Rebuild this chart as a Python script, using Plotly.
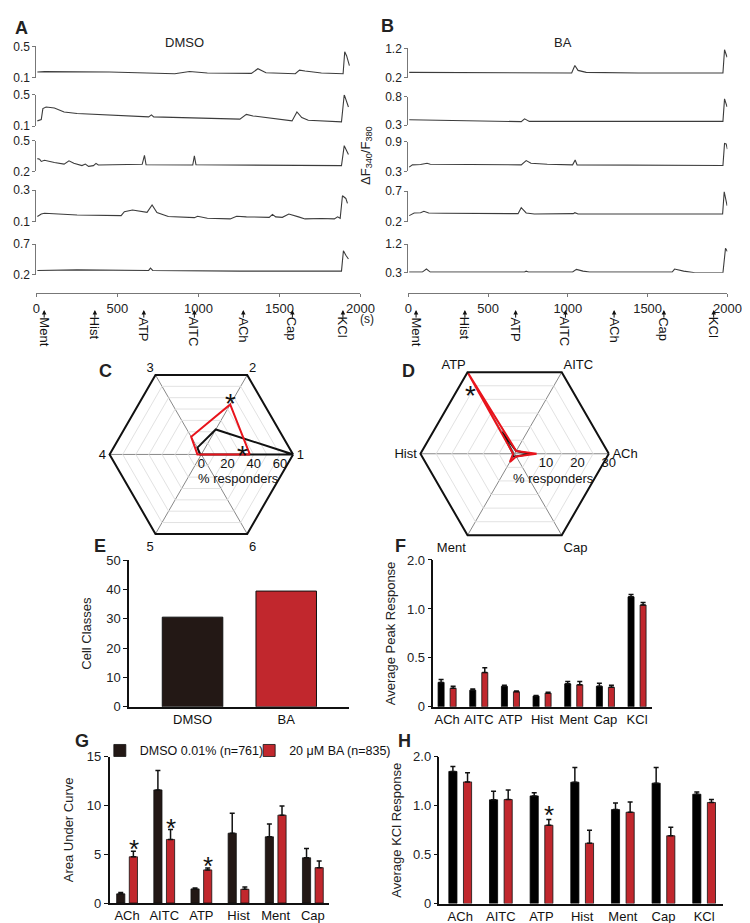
import plotly.graph_objects as go

# ---------------- DATA ----------------
# Panel A (DMSO) example traces: time (s) and ratio values
a1_t = [6, 50, 452, 854, 945, 1055, 1327, 1367, 1417, 1598, 1624, 1658, 1759, 1883, 1893, 1903, 1915, 1932]
a1_v = [0.175, 0.18, 0.175, 0.154, 0.183, 0.163, 0.158, 0.217, 0.166, 0.154, 0.2, 0.188, 0.163, 0.15, 0.154, 0.433, 0.38, 0.258]
a2_t = [6, 30, 40, 60, 111, 171, 251, 452, 693, 710, 724, 1256, 1296, 1337, 1457, 1578, 1608, 1638, 1678, 1883, 1900, 1926]
a2_v = [0.167, 0.184, 0.323, 0.344, 0.33, 0.28, 0.26, 0.24, 0.218, 0.243, 0.218, 0.19, 0.25, 0.23, 0.195, 0.167, 0.28, 0.21, 0.175, 0.155, 0.5, 0.344]
a3_t = [6, 20, 30, 50, 111, 171, 201, 231, 281, 302, 322, 352, 368, 382, 653, 667, 677, 965, 975, 985, 1883, 1900, 1926]
a3_v = [0.326, 0.32, 0.298, 0.31, 0.288, 0.272, 0.304, 0.28, 0.257, 0.272, 0.25, 0.257, 0.279, 0.263, 0.27, 0.358, 0.265, 0.263, 0.352, 0.265, 0.257, 0.453, 0.367]
a4_t = [6, 30, 50, 251, 523, 543, 593, 683, 714, 744, 814, 975, 995, 1055, 1196, 1236, 1296, 1437, 1457, 1477, 1518, 1558, 1618, 1658, 1759, 1839, 1859, 1875, 1889, 1910, 1920]
a4_v = [0.132, 0.148, 0.153, 0.142, 0.138, 0.163, 0.174, 0.159, 0.205, 0.157, 0.132, 0.125, 0.134, 0.121, 0.117, 0.134, 0.13, 0.127, 0.146, 0.13, 0.127, 0.148, 0.13, 0.117, 0.12, 0.117, 0.13, 0.121, 0.264, 0.247, 0.216]
a5_t = [6, 251, 693, 704, 718, 1256, 1883, 1895, 1910, 1926]
a5_v = [0.27, 0.28, 0.27, 0.307, 0.27, 0.259, 0.259, 0.592, 0.52, 0.458]
a_ranges = [(0.1, 0.5), (0.1, 0.5), (0.2, 0.5), (0.1, 0.3), (0.2, 0.7)]

# Panel B (BA) example traces
b1_t = [6, 423, 729, 739, 749, 1024, 1044, 1064, 1115, 1441, 1972, 1982, 1998]
b1_v = [0.389, 0.38, 0.367, 0.39, 0.367, 0.367, 0.622, 0.456, 0.39, 0.367, 0.367, 1.156, 0.9]
b2_t = [6, 220, 525, 708, 729, 759, 1034, 1972, 1982, 1998]
b2_v = [0.396, 0.384, 0.367, 0.362, 0.412, 0.367, 0.367, 0.367, 0.761, 0.62]
b3_t = [6, 26, 77, 118, 138, 423, 708, 739, 769, 871, 1030, 1046, 1058, 1972, 1982, 1992, 2000]
b3_v = [0.387, 0.433, 0.44, 0.467, 0.447, 0.44, 0.433, 0.52, 0.467, 0.447, 0.433, 0.533, 0.433, 0.42, 0.867, 0.86, 0.753]
b4_t = [6, 37, 77, 98, 128, 220, 688, 708, 739, 790, 1034, 1044, 1064, 1970, 1980, 1998]
b4_v = [0.298, 0.341, 0.346, 0.37, 0.341, 0.336, 0.33, 0.428, 0.341, 0.325, 0.33, 0.346, 0.325, 0.325, 0.689, 0.46]
b5_t = [6, 88, 114, 138, 729, 739, 753, 1030, 1054, 1095, 1136, 1654, 1669, 1726, 1797, 1972, 1988, 2000]
b5_v = [0.321, 0.321, 0.416, 0.321, 0.321, 0.35, 0.321, 0.321, 0.406, 0.35, 0.321, 0.321, 0.416, 0.35, 0.3, 0.3, 1.07, 0.97]
b_ranges = [(0.2, 1.2), (0.3, 0.8), (0.3, 0.9), (0.2, 0.7), (0.3, 1.2)]

stim_labels = ["Ment", "Hist", "ATP", "AITC", "ACh", "Cap", "KCl"]
stim_times_a = [48, 361, 663, 975, 1277, 1580, 1892]
stim_times_b = [49, 355, 673, 985, 1290, 1602, 1914]

# Panel C radar (cell classes 1-6, % responders)
c_axes = ["1", "2", "3", "4", "5", "6"]
c_dmso = [70, 22, 6, 1, 0, 0]
c_ba = [37, 44, 15.5, 3, 0, 0]

# Panel D radar (agonists, % responders)
d_axes = ["ACh", "AITC", "ATP", "Hist", "Ment", "Cap"]
d_dmso = [5, 1, 8, 0.5, 1, 1]
d_ba = [7, 1, 30, 0.5, 3, 1]

# Panel E
e_groups = ["DMSO", "BA"]
e_values = [30.6, 39.5]

# Panel F (average peak response)
f_cats = ["ACh", "AITC", "ATP", "Hist", "Ment", "Cap", "KCl"]
f_dmso = [0.25, 0.17, 0.21, 0.11, 0.235, 0.21, 1.124]
f_dmso_err = [0.03, 0.012, 0.01, 0.007, 0.025, 0.03, 0.024]
f_ba = [0.19, 0.35, 0.155, 0.14, 0.225, 0.20, 1.04]
f_ba_err = [0.02, 0.05, 0.006, 0.01, 0.035, 0.02, 0.027]

# Panel G (area under curve)
g_cats = ["ACh", "AITC", "ATP", "Hist", "Ment", "Cap"]
g_dmso = [0.94, 11.6, 1.45, 7.16, 6.79, 4.64]
g_dmso_err = [0.14, 2.0, 0.1, 2.04, 1.31, 0.94]
g_ba = [4.74, 6.52, 3.40, 1.41, 9.01, 3.63]
g_ba_err = [0.57, 1.01, 0.2, 0.24, 0.95, 0.67]
g_star = ["ACh", "AITC", "ATP"]

# Panel H (average KCl response)
h_cats = ["ACh", "AITC", "ATP", "Hist", "Ment", "Cap", "KCl"]
h_dmso = [1.35, 1.06, 1.10, 1.24, 0.96, 1.23, 1.117]
h_dmso_err = [0.05, 0.087, 0.033, 0.15, 0.067, 0.16, 0.023]
h_ba = [1.243, 1.063, 0.80, 0.617, 0.933, 0.693, 1.033]
h_ba_err = [0.094, 0.097, 0.06, 0.133, 0.104, 0.087, 0.03]
h_star = ["ATP"]

# ---------------- LAYOUT HELPERS ----------------
W, H = 750, 923
FONT = "Liberation Sans, Arial, sans-serif"
def fx(p):
    return p / W
def fy(p):
    return 1 - p / H

fig = go.Figure()
layout = dict(width=W, height=H, margin=dict(l=0, r=0, t=0, b=0),
              paper_bgcolor="white", plot_bgcolor="white",
              font=dict(family=FONT, size=12, color="#222"), showlegend=True)
annotations = []

def ptext(px, py, text, size=13, angle=0, color="#222"):
    annotations.append(dict(x=fx(px), y=fy(py), xref="paper", yref="paper", text=text,
                            showarrow=False, xanchor="center", yanchor="middle", textangle=angle,
                            font=dict(size=size, color=color)))

TRACE_COL = "#3c3c3c"
AX_COL = "#777"

a_rows_px = [(32, 64), (81, 113), (128, 159), (178, 210), (233, 264)]
b_rows_px = [(34, 64), (83, 112), (129, 159), (179, 210), (233, 262)]
a_data = [(a1_t, a1_v), (a2_t, a2_v), (a3_t, a3_v), (a4_t, a4_v), (a5_t, a5_v)]
b_data = [(b1_t, b1_v), (b2_t, b2_v), (b3_t, b3_v), (b4_t, b4_v), (b5_t, b5_v)]

def add_trace_panel(data, ranges, rows_px, x0, x1, axis_offset, stim_times):
    for i, ((t, v), (lo, hi), (ptop, pbot)) in enumerate(zip(data, ranges, rows_px)):
        n = axis_offset + i + 1
        xa = "x" if n == 1 else f"x{n}"
        ya = "y" if n == 1 else f"y{n}"
        fig.add_trace(go.Scatter(x=t, y=v, mode="lines", xaxis=xa, yaxis=ya,
                                 line=dict(color=TRACE_COL, width=1.1), showlegend=False,
                                 hoverinfo="skip"))
        xkey = "xaxis" if n == 1 else f"xaxis{n}"
        ykey = "yaxis" if n == 1 else f"yaxis{n}"
        last = (i == len(data) - 1)
        xd = dict(domain=[fx(x0), fx(x1)], range=[0, 2000], showgrid=False, zeroline=False)
        if last:
            xd.update(anchor="free", position=fy(283), showline=True, linecolor=AX_COL, linewidth=1,
                      ticks="outside", ticklen=3, tickcolor=AX_COL, tickvals=[0, 500, 1000, 1500, 2000],
                      tickfont=dict(size=13, color="#222"))
        else:
            xd.update(anchor=ya, visible=False)
        layout[xkey] = xd
        layout[ykey] = dict(domain=[fy(pbot), fy(ptop)], range=[lo, hi], anchor=xa,
                            showgrid=False, zeroline=False, showline=True, linecolor=AX_COL,
                            linewidth=1, ticks="outside", ticklen=3, tickcolor=AX_COL,
                            tickvals=[lo, hi], ticktext=[str(lo), str(hi)],
                            tickfont=dict(size=12, color="#222"))
    xref = "x" + str(axis_offset + len(data))
    for lab, t in zip(stim_labels, stim_times):
        annotations.append(dict(x=t, y=fy(300), xref=xref, yref="paper", text="", showarrow=True,
                                ax=0, ay=9, arrowhead=2, arrowsize=0.9, arrowwidth=1, arrowcolor="#111"))
        annotations.append(dict(x=t, y=fy(305), xref=xref, yref="paper", text=lab, showarrow=False,
                                textangle=90, xanchor="center", yanchor="top",
                                font=dict(size=13, color="#111")))

add_trace_panel(a_data, a_ranges, a_rows_px, 25, 357, 0, stim_times_a)
add_trace_panel(b_data, b_ranges, b_rows_px, 406, 733, 5, stim_times_b)

ptext(364, 309, "(s)", 12)
ptext(177, 28, "DMSO", 13)
ptext(565, 28, "BA", 13)
ptext(363, 143, "ΔF<sub>340</sub>/F<sub>380</sub>", 13, angle=-90)

# ---------------- RADARS ----------------
RED = "#e8141c"
def radar(polar_name, cats, dmso, ba, rng, tickvals, ticktext, cx, cy, R):
    fig.add_trace(go.Scatterpolar(r=dmso + [dmso[0]], theta=cats + [cats[0]], mode="lines",
                                  line=dict(color="#111", width=2), subplot=polar_name,
                                  showlegend=False, hoverinfo="skip"))
    fig.add_trace(go.Scatterpolar(r=ba + [ba[0]], theta=cats + [cats[0]], mode="lines",
                                  line=dict(color=RED, width=2), subplot=polar_name,
                                  showlegend=False, hoverinfo="skip"))
    layout[polar_name] = dict(
        domain=dict(x=[fx(cx - R), fx(cx + R)], y=[fy(cy + R), fy(cy - R)]),
        gridshape="linear", bgcolor="white",
        angularaxis=dict(type="category", categoryarray=cats, rotation=0, direction="counterclockwise",
                         showline=True, linecolor="#111", linewidth=2, gridcolor="#888", gridwidth=1,
                         ticks="", tickfont=dict(size=13, color="#111")),
        radialaxis=dict(range=rng, tickvals=tickvals, ticktext=ticktext, angle=0, showline=False,
                        gridcolor="#e2e2e2", gridwidth=1, ticks="", side="clockwise",
                        tickfont=dict(size=13, color="#111"), tickangle=0))

radar("polar", c_axes, c_dmso, c_ba, [0, 70], [0, 10, 20, 30, 40, 50, 60, 70],
      ["0", "", "20", "", "40", "", "60", ""], 194, 446.7, 94)
radar("polar2", d_axes, d_dmso, d_ba, [0, 30], [5, 10, 15, 20, 25, 30],
      ["", "10", "", "20", "", "30"], 515, 446, 96.5)

ptext(232, 471, "% responders", 13, color="#111")
ptext(555, 471, "% responders", 13, color="#111")
for (sx, sy) in [(224, 395), (236, 448), (470, 387)]:
    ptext(sx, sy, "*", 28, color="#111")

# ---------------- BAR PANELS ----------------
DARK = "#231815"
BRED = "#c1272d"
def bar_axes(n, x0, x1, ytop, ybot, xrange, yrange, yticks, yticktext, ytitle, title_std):
    layout[f"xaxis{n}"] = dict(domain=[fx(x0), fx(x1)], anchor=f"y{n}", range=xrange, showline=True,
                               linecolor="#111", linewidth=1.5, showgrid=False, zeroline=False,
                               ticks="", tickfont=dict(size=13, color="#111"))
    layout[f"yaxis{n}"] = dict(domain=[fy(ybot), fy(ytop)], anchor=f"x{n}", range=yrange, showline=True,
                               linecolor="#111", linewidth=1.5, showgrid=False, zeroline=False,
                               ticks="outside", ticklen=4, tickcolor="#111", tickvals=yticks,
                               ticktext=yticktext, tickfont=dict(size=13, color="#222"),
                               title=dict(text=ytitle, font=dict(size=13, color="#222"), standoff=title_std))

# E
fig.add_trace(go.Bar(x=e_groups, y=e_values, marker=dict(color=[DARK, BRED], line=dict(color="#111", width=1)),
                     width=0.646, xaxis="x11", yaxis="y11", showlegend=False, hoverinfo="skip"))
bar_axes(11, 120, 345, 554.3, 703.3, [-0.677, 1.667], [0, 50], [0, 10, 20, 30, 40, 50],
         ["0", "10", "20", "30", "40", "50"], "Cell Classes", 12)

def err(arr):
    return dict(type="data", array=arr, arrayminus=[0] * len(arr), symmetric=False,
                color="#111", thickness=1.5, width=2.5)

# F
fig.add_trace(go.Bar(x=f_cats, y=f_dmso, error_y=err(f_dmso_err), offset=-0.285, width=0.19,
                     marker=dict(color="#000", line=dict(color="#000", width=0.8)),
                     xaxis="x12", yaxis="y12", showlegend=False, hoverinfo="skip"))
fig.add_trace(go.Bar(x=f_cats, y=f_ba, error_y=err(f_ba_err), offset=0.095, width=0.19,
                     marker=dict(color=BRED, line=dict(color="#111", width=0.8)),
                     xaxis="x12", yaxis="y12", showlegend=False, hoverinfo="skip"))
bar_axes(12, 431.7, 656, 554, 703.3, [-0.435, 6.48], [0, 1.5], [0, 0.5, 1.0, 1.5],
         ["0", "0.5", "1.0", "2.0"], "Average Peak Response", 8)

# G
fig.add_trace(go.Bar(x=g_cats, y=g_dmso, error_y=err(g_dmso_err), offset=-0.28, width=0.22,
                     marker=dict(color=DARK, line=dict(color="#111", width=0.8)), name="DMSO 0.01% (n=761)",
                     xaxis="x13", yaxis="y13", showlegend=True, legend="legend", hoverinfo="skip"))
fig.add_trace(go.Bar(x=g_cats, y=g_ba, error_y=err(g_ba_err), offset=0.06, width=0.22,
                     marker=dict(color=BRED, line=dict(color="#111", width=0.8)), name="20 μM BA (n=835)",
                     xaxis="x13", yaxis="y13", showlegend=True, legend="legend2", hoverinfo="skip"))
bar_axes(13, 100, 325, 754, 902.7, [-0.47, 5.44], [0, 15], [0, 5, 10, 15],
         ["0", "5", "10", "15"], "Area Under Curve", 10)
for c in g_star:
    i = g_cats.index(c)
    annotations.append(dict(x=c, y=g_ba[i] + g_ba_err[i], xref="x13", yref="y13", text="*",
                            xshift=6.5, yshift=2, xanchor="center", yanchor="middle", showarrow=False,
                            font=dict(size=26, color="#111")))

# H
fig.add_trace(go.Bar(x=h_cats, y=h_dmso, error_y=err(h_dmso_err), offset=-0.28, width=0.2,
                     marker=dict(color="#000", line=dict(color="#000", width=0.8)),
                     xaxis="x14", yaxis="y14", showlegend=False, hoverinfo="skip"))
fig.add_trace(go.Bar(x=h_cats, y=h_ba, error_y=err(h_ba_err), offset=0.08, width=0.2,
                     marker=dict(color=BRED, line=dict(color="#111", width=0.8)),
                     xaxis="x14", yaxis="y14", showlegend=False, hoverinfo="skip"))
bar_axes(14, 438, 728.3, 754, 903.3, [-0.51, 6.46], [0, 1.5], [0, 0.5, 1.0, 1.5],
         ["0", "0.5", "1.0", "2.0"], "Average KCl Response", 8)
for c in h_star:
    i = h_cats.index(c)
    annotations.append(dict(x=c, y=h_ba[i] + h_ba_err[i], xref="x14", yref="y14", text="*",
                            xshift=7.5, yshift=4, xanchor="center", yanchor="middle", showarrow=False,
                            font=dict(size=26, color="#111")))

layout["barmode"] = "overlay"
leg_common = dict(orientation="h", xanchor="left", yanchor="middle", font=dict(size=12.5, color="#111"),
                  bgcolor="rgba(0,0,0,0)", itemwidth=30, borderwidth=0)
layout["legend"] = dict(x=fx(90), y=fy(748), **leg_common)
layout["legend2"] = dict(x=fx(243), y=fy(748), **leg_common)

# Panel letters
for lab, (px, py) in {"A": (10, 13), "B": (385, 11), "C": (96, 362), "D": (406, 362),
                      "E": (90, 540), "F": (398, 540), "G": (72, 738), "H": (402, 738)}.items():
    ptext(px, py, f"<b>{lab}</b>", 18)

layout["annotations"] = annotations
fig.update_layout(**layout)
fig.write_html("out.html")
